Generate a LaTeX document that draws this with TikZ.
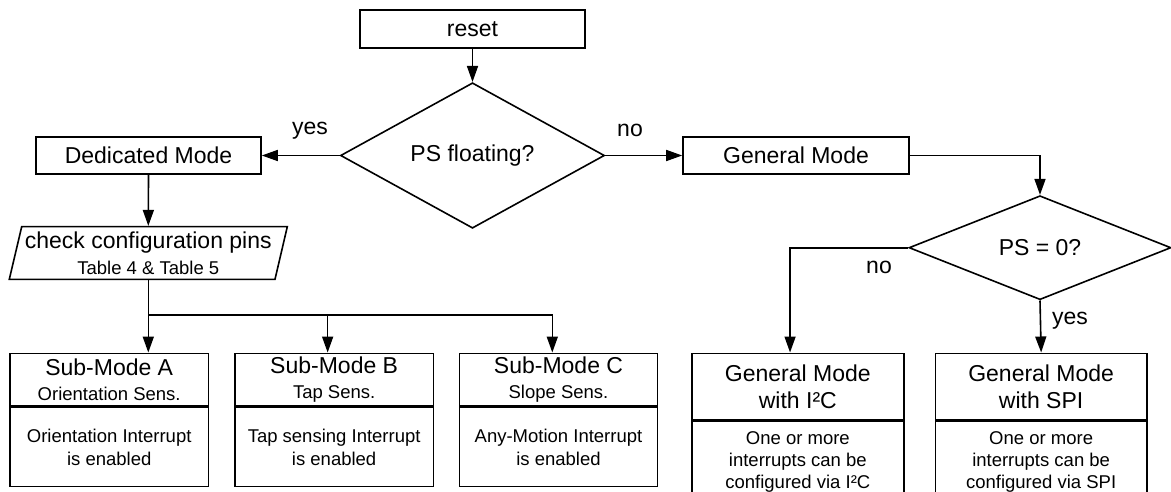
\documentclass[tikz,border=0pt]{standalone}
\usepackage{fontspec}
\setmainfont{Liberation Sans}
\usetikzlibrary{shapes.geometric,arrows.meta}
\newcommand\smfont{\fontsize{18.5}{22}\selectfont}
\begin{document}
\begin{tikzpicture}[x=1pt,y=-1pt,
  line width=1.6pt,
  big/.style={font=\fontsize{23}{27}\selectfont},
  box/.style={draw,rectangle,inner sep=0pt,align=center,big},
  titlebox/.style={box,font=\fontsize{23}{25}\selectfont},
  bodybox/.style={box,font=\fontsize{18.5}{23}\selectfont,anchor=north},
  gbodybox/.style={box,font=\fontsize{18.5}{22}\selectfont,anchor=north},
  dec/.style={draw,diamond,inner sep=0pt,big},
  arr/.style={-{Triangle[length=16pt,width=11pt]}},
  lbl/.style={inner sep=0pt,big}]
\clip (0,0) rectangle (1171,492);
\fill[white] (0,0) rectangle (1171,492);

% top part
\node[box,minimum width=225pt,minimum height=38pt] (reset) at (472.5,29) {reset};
\node[dec,minimum width=264pt,minimum height=105pt] (d1) at (472.5,155.5) {PS floating?};
\node[box,minimum width=225pt,minimum height=37pt] (ded) at (148.5,155.5) {Dedicated Mode};
\node[box,minimum width=226pt,minimum height=37pt] (gen) at (796,155.5) {General Mode};
\node[dec,minimum width=262pt,minimum height=104pt] (d2) at (1040,247.7) {PS = 0?};

% parallelogram
\node[inner sep=0pt,minimum width=254pt,minimum height=52.6pt,align=center,
      font=\fontsize{23}{25.7}\selectfont] (cfg) at (148.3,253)
      {check configuration pins\\{\smfont Table 4 \& Table 5}};
\draw (21.7,226.7) -- (287.3,226.7) -- (275,279.3) -- (9.3,279.3) -- cycle;

% sub-mode boxes
\node[titlebox,minimum width=198.3pt,minimum height=52.7pt] (sa) at (109.2,379.7)
  {Sub-Mode A\\{\smfont Orientation Sens.}};
\node[bodybox,minimum width=198.3pt,minimum height=79pt] (sab) at (sa.south)
  {Orientation Interrupt\\is enabled};
\node[titlebox,minimum width=198.3pt,minimum height=52.7pt] (sb) at (334.15,379.7)
  {Sub-Mode B\\{\smfont Tap Sens.}};
\node[bodybox,minimum width=198.3pt,minimum height=79pt] (sbb) at (sb.south)
  {Tap sensing Interrupt\\is enabled};
\node[titlebox,minimum width=198.3pt,minimum height=52.7pt] (sc) at (558.5,379.7)
  {Sub-Mode C\\{\smfont Slope Sens.}};
\node[bodybox,minimum width=198.3pt,minimum height=79pt] (scb) at (sc.south)
  {Any-Motion Interrupt\\is enabled};

% general mode boxes
\node[box,minimum width=211.7pt,minimum height=66pt] (g1) at (797.85,386.3)
  {General Mode\\with I²C};
\node[gbodybox,minimum width=211.7pt,minimum height=81.4pt] (g1b) at (g1.south)
  {One or more\\interrupts can be\\configured via I²C};
\node[box,minimum width=211.7pt,minimum height=66pt] (g2) at (1041.15,386.3)
  {General Mode\\with SPI};
\node[gbodybox,minimum width=211.7pt,minimum height=81.4pt] (g2b) at (g2.south)
  {One or more\\interrupts can be\\configured via SPI};

% connectors
\draw[arr] (reset.south) -- (d1.north);
\draw[arr] (d1.west) -- (ded.east);
\draw[arr] (d1.east) -- (gen.west);
\draw[arr] (gen.east) -| (d2.north);
\draw[arr] (ded.south) -- (cfg.north);
\coordinate (j) at ([yshift=-34.7pt]cfg.south);
\draw (cfg.south) -- (j);
\draw[arr] (j) -- (j |- sa.north);
\draw[arr] (j) -| ([xshift=-6.5pt]sb.north);
\draw[arr] (j) -| ([xshift=-6.2pt]sc.north);
\draw[arr] (d2.west) -| ([xshift=-7.8pt]g1.north);
\draw[arr] (d2.south) -- (g2.north);

% labels
\node[lbl] (yes1) at (310,131) {yes};
\node[lbl] (no1) at (630,130) {no};
\node[lbl] (no2) at (879,267) {no};
\node[lbl] (yes2) at (1070,321) {yes};
\end{tikzpicture}
\end{document}
